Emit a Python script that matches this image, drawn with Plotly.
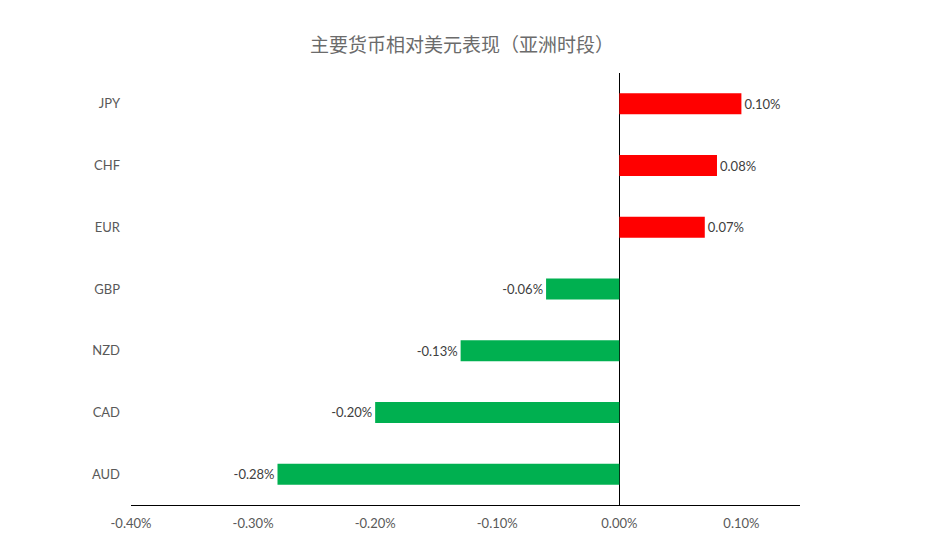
import plotly.graph_objects as go

currencies = ['JPY', 'CHF', 'EUR', 'GBP', 'NZD', 'CAD', 'AUD']
changes = [0.10, 0.08, 0.07, -0.06, -0.13, -0.20, -0.28]
tick_vals = [-0.4, -0.3, -0.2, -0.1, 0.0, 0.1]

# red for gains vs USD, green for losses
colors = ['#FF0000' if v > 0 else '#00B050' for v in changes]

fig = go.Figure()
fig.add_trace(go.Bar(
    x=changes,
    y=currencies,
    orientation='h',
    marker=dict(color=colors, line=dict(width=0)),
    width=0.34,
    text=[f'{v:.2f}%' for v in changes],
    textposition='outside',
    textfont=dict(size=13, color='#404040', family='Lato'),
    cliponaxis=False,
))

fig.update_layout(
    title=dict(text='主要货币相对美元表现（亚洲时段）', x=0.486, xanchor='center',
               y=0.933, yanchor='middle',
               font=dict(size=19, color='#6b6b6b', family='Noto Sans CJK SC')),
    width=934, height=551,
    margin=dict(l=123, r=142, t=65, b=54),
    plot_bgcolor='white', paper_bgcolor='white',
    showlegend=False,
    font=dict(family='Lato', size=13, color='#595959'),
    xaxis=dict(
        range=[-0.4, 0.148],
        tickvals=tick_vals,
        ticktext=[f'{v:.2f}%' for v in tick_vals],
        showgrid=False,
        zeroline=True, zerolinecolor='black', zerolinewidth=1,
        showline=True, linecolor='black', linewidth=1,
        ticks='', ticklabelstandoff=6,
        tickfont=dict(size=13, color='#595959'),
    ),
    yaxis=dict(
        categoryorder='array',
        categoryarray=currencies[::-1],
        showgrid=False, zeroline=False, showline=False,
        ticks='', ticklabelstandoff=10,
        tickfont=dict(size=13, color='#595959'),
    ),
)

fig.write_html('out.html')
